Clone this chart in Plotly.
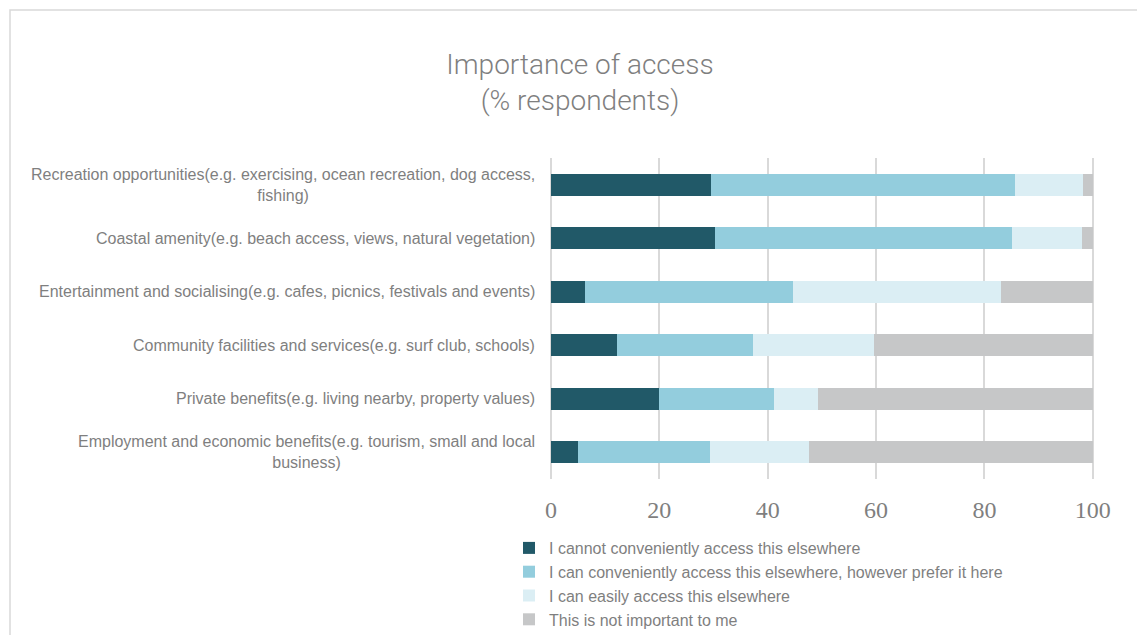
import plotly.graph_objects as go

categories = [
    "Recreation opportunities(e.g. exercising, ocean recreation, dog access,<br>fishing)",
    "Coastal amenity(e.g. beach access, views, natural vegetation)",
    "Entertainment and socialising(e.g. cafes, picnics, festivals and events)",
    "Community facilities and services(e.g. surf club, schools)",
    "Private benefits(e.g. living nearby, property values)",
    "Employment and economic benefits(e.g. tourism, small and local<br>business)",
]
series_names = [
    "I cannot conveniently access this elsewhere",
    "I can conveniently access this elsewhere, however prefer it here",
    "I can easily access this elsewhere",
    "This is not important to me",
]
cannot_access = [29.6, 30.2, 6.3, 12.2, 20.0, 4.9]
prefer_here = [56.0, 54.9, 38.4, 25.1, 21.2, 24.5]
easily_access = [12.5, 12.9, 38.3, 22.3, 8.1, 18.2]
not_important = [1.9, 2.0, 17.0, 40.4, 50.7, 52.4]
x_ticks = [0, 20, 40, 60, 80, 100]

colors = ["#215968", "#93CDDD", "#DBEEF4", "#C6C7C8"]
values = [cannot_access, prefer_here, easily_access, not_important]

W, H = 1137, 635
L, R, T, B = 551, 42, 158, 156
pw, ph = W - L - R, H - T - B

fig = go.Figure()
for i, (name, vals, col) in enumerate(zip(series_names, values, colors)):
    fig.add_trace(go.Bar(
        y=categories, x=vals, name=name, orientation="h",
        legendgroup=f"g{i}",
        marker=dict(color=col, line=dict(width=0)),
    ))

for c in categories:
    fig.add_annotation(
        x=0, xref="paper", y=c, yref="y", text=c, showarrow=False,
        xanchor="right", yanchor="middle", align="center", xshift=-14,
        font=dict(family="Liberation Sans, Arial, sans-serif", size=16, color="#7f7f7f"),
    )

# chart border (top and left edges visible)
fig.add_shape(
    type="rect", xref="paper", yref="paper",
    x0=(10 - L) / pw, x1=(W + 60 - L) / pw,
    y0=(H - B - (H + 60)) / ph, y1=1 + (T - 10) / ph,
    line=dict(color="#d9d9d9", width=1.5), fillcolor="rgba(0,0,0,0)", layer="below",
)

fig.update_layout(
    width=W, height=H,
    margin=dict(l=L, r=R, t=T, b=B, autoexpand=False),
    barmode="stack", bargap=0.58,
    plot_bgcolor="white", paper_bgcolor="white",
    title=dict(
        text="Importance of access<br>(% respondents)",
        x=580 / W, xref="container", xanchor="center",
        y=1 - 74 / H, yref="container", yanchor="middle",
        font=dict(family="Roboto", weight=300, size=28, color="#7f7f7f"),
    ),
    xaxis=dict(
        range=[0, 100.4], tickvals=x_ticks, showgrid=True,
        gridcolor="#d9d9d9", gridwidth=2,
        zeroline=True, zerolinecolor="#d9d9d9", zerolinewidth=2, showline=False,
        ticklabelstandoff=14,
        tickfont=dict(family="Liberation Serif, serif", size=24, color="#7f7f7f"),
    ),
    yaxis=dict(
        autorange="reversed", showticklabels=False, showgrid=False,
        zeroline=False, showline=False,
    ),
    legend=dict(
        orientation="v", x=(549 - 40) / W, xref="container", xanchor="left",
        y=1 - 531 / H, yref="container", yanchor="top",
        font=dict(family="Liberation Sans, Arial, sans-serif", size=16, color="#7f7f7f"),
        tracegroupgap=1.6, traceorder="normal", itemwidth=30,
    ),
    showlegend=True,
)

fig.write_html("out.html")
